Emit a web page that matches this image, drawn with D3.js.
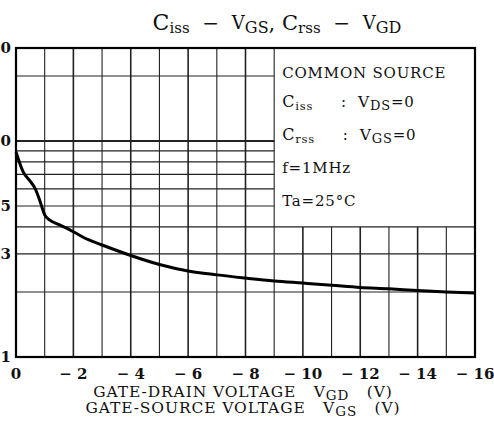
<html>
<head>
    <title>Ciss - VGS, Crss - VGD</title>
    <script src="https://d3js.org/d3.v7.min.js"></script>
</head>
<style>
    body { margin: 0; background: #fff; }
    text { font-family: "DejaVu Serif", serif; fill: #111; white-space: pre; }
    .grid line { stroke: #222; }
    .curve { fill: none; stroke: #000; stroke-width: 3px; stroke-linejoin: round; }
</style>
<body>
<script>
    // gate voltage (V) and capacitance (pF)
    const voltage = [0, -0.25, -0.5, -0.66, -0.84, -1.0, -1.18, -1.5, -2, -2.5, -3, -4, -5, -6, -7, -8, -9, -10, -11, -12, -13, -14, -15, -16];
    const capacitance = [8.9, 7.2, 6.5, 6.05, 5.25, 4.55, 4.3, 4.1, 3.8, 3.5, 3.3, 2.95, 2.68, 2.5, 2.4, 2.32, 2.25, 2.2, 2.15, 2.1, 2.07, 2.03, 2.0, 1.98];

    const xTicks = [0, -2, -4, -6, -8, -10, -12, -14, -16];
    const xGrid = [-1, -2, -3, -4, -5, -6, -7, -8, -9, -10, -11, -12, -13, -14, -15];
    const yTicks = [1, 3, 5, 10, 30];
    const yGrid = [2, 3, 4, 5, 6, 7, 8, 9, 10, 20];

    let margin = {top: 48, right: 19, bottom: 69, left: 16};
    let svgwidth = 494, svgheight = 426;
    let width = svgwidth - margin.left - margin.right;
    let height = svgheight - margin.top - margin.bottom;
    let decade = 216; // px per decade, the top end of the printed axis is squeezed

    let x = d3.scaleLinear().domain([0, -16]).range([0, width]);
    let y = d3.scaleLog().domain([1, 20, 30])
        .range([height, height - decade * Math.log10(20), 0]);

    let svg = d3.select("body").append("svg")
        .attr("width", svgwidth)
        .attr("height", svgheight);

    let g = svg.append("g")
        .attr("transform", "translate(" + margin.left + "," + margin.top + ")");

    // grid, the legend box sits in the top right corner
    let grid = g.append("g").attr("class", "grid");
    grid.selectAll(".vline").data(xGrid).enter().append("line")
        .attr("x1", d => x(d)).attr("x2", d => x(d))
        .attr("y1", d => d < -9 ? y(4) : 0)
        .attr("y2", height)
        .attr("stroke-width", d => d % 2 === 0 ? 1.6 : 1.1);
    grid.selectAll(".hline").data(yGrid).enter().append("line")
        .attr("x1", 0)
        .attr("x2", d => d > 4 ? x(-9) : width)
        .attr("y1", d => y(d)).attr("y2", d => y(d))
        .attr("stroke-width", d => d === 10 ? 1.8 : 1.2);

    // frame
    g.append("rect")
        .attr("width", width).attr("height", height)
        .attr("fill", "none").attr("stroke", "#000").attr("stroke-width", 2.2);

    // curve
    let pts = voltage.map((v, i) => [v, capacitance[i]]);
    let line = d3.line()
        .x(d => x(d[0]))
        .y(d => y(d[1]))
        .curve(d3.curveMonotoneX);
    g.append("path").datum(pts).attr("class", "curve").attr("d", line);

    // axes labels
    g.selectAll(".xt").data(xTicks).enter().append("text")
        .attr("x", d => x(d)).attr("y", height + 22)
        .attr("text-anchor", "middle")
        .attr("font-size", 15).attr("font-weight", "bold")
        .text(d => d === 0 ? "0" : "\u2212 " + Math.abs(d));
    g.selectAll(".yt").data(yTicks).enter().append("text")
        .attr("x", -5).attr("y", d => y(d) + 5)
        .attr("text-anchor", "end")
        .attr("font-size", 15).attr("font-weight", "bold")
        .text(d => d);

    // text with sub/superscript pieces: [text, size, dy]
    function rich(sel, parts) {
        parts.forEach(p => {
            sel.append("tspan").attr("font-size", p[1]).attr("dy", p[2] || 0).text(p[0]);
        });
        return sel;
    }

    rich(svg.append("text").attr("x", 277).attr("y", 30).attr("text-anchor", "middle"), [
        ["C", 22], ["iss", 15, 3], ["  \u2212  ", 20, -3], ["V", 18, -1], ["GS", 16, 4],
        [", C", 21, -3], ["rss", 15, 3], ["  \u2212  ", 20, -3], ["V", 18, -1], ["GD", 16, 4]
    ]);

    // legend
    let lx = margin.left + x(-9) + 8;
    let leg = svg.append("g").attr("letter-spacing", 0.8);
    leg.append("text").attr("x", lx).attr("y", 78).attr("font-size", 15).text("COMMON SOURCE");
    rich(leg.append("text").attr("x", lx).attr("y", 107), [
        ["C", 16], ["iss", 11.5, 3], ["     :  ", 15, -3], ["V", 15.5], ["DS", 13, 3], ["=0", 15, -3]
    ]);
    rich(leg.append("text").attr("x", lx).attr("y", 140), [
        ["C", 16], ["rss", 11.5, 3], ["     :  ", 15, -3], ["V", 15.5], ["GS", 13, 3], ["=0", 15, -3]
    ]);
    leg.append("text").attr("x", lx).attr("y", 173).attr("font-size", 15).text("f=1MHz");
    leg.append("text").attr("x", lx).attr("y", 206).attr("font-size", 15).text("Ta=25\u00B0C");

    // x axis title
    let xt = svg.append("g").attr("letter-spacing", 0.9);
    rich(xt.append("text").attr("x", 243).attr("y", 397).attr("text-anchor", "middle"), [
        ["GATE-DRAIN VOLTAGE   V", 15.5], ["GD", 13.5, 3], ["   (V)", 15.5, -3]
    ]);
    rich(xt.append("text").attr("x", 243).attr("y", 413).attr("text-anchor", "middle"), [
        ["GATE-SOURCE VOLTAGE   V", 15.5], ["GS", 13.5, 3], ["   (V)", 15.5, -3]
    ]);
</script>
</body>
</html>
